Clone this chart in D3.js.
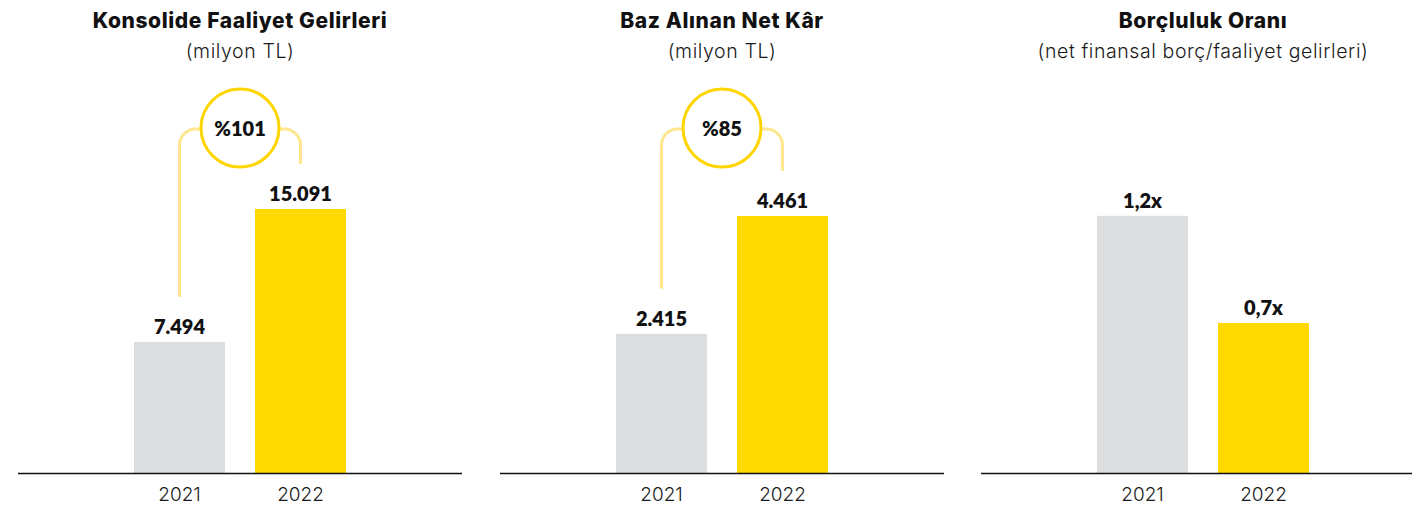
<!DOCTYPE html>
<html>
<head>
<meta charset="utf-8">
<script src="https://cdn.jsdelivr.net/npm/d3@7"></script>
<style>
  html, body { margin: 0; padding: 0; background: #fff; }
  svg { display: block; font-family: Lato, "Noto Sans", sans-serif; }
</style>
</head>
<body>
<svg id="chart" width="1412" height="505"></svg>
<script>
// ---- data ----
const years = ["2021", "2022"];
const titles = ["Konsolide Faaliyet Gelirleri", "Baz Alınan Net Kâr", "Borçluluk Oranı"];
const subtitles = ["(milyon TL)", "(milyon TL)", "(net finansal borç/faaliyet gelirleri)"];
const revenueValues = [7494, 15091];
const netProfitValues = [2415, 4461];
const leverageValues = [1.2, 0.7];
const revenueLabels = ["7.494", "15.091"];
const netProfitLabels = ["2.415", "4.461"];
const leverageLabels = ["1,2x", "0,7x"];
const growthLabels = ["%101", "%85", null];
const domainMax = [17149, 5207, 1.40];

const seriesValues = [revenueValues, netProfitValues, leverageValues];
const seriesLabels = [revenueLabels, netProfitLabels, leverageLabels];

// ---- style ----
const barColors = ["#DCDDDF", "#FFD900"];
const ringColor = "#FFD500";
const bracketColor = "#FFE68F";
const textColor = "#111111";
const titleFont = "Inter, 'Open Sans', sans-serif";

const svg = d3.select("#chart");
const baseY = 473;
const topY = 173;
const panelCenters = [240, 722, 1203];

titles.forEach((title, i) => {
  const cx = panelCenters[i];
  const g = svg.append("g");
  const vals = seriesValues[i];
  const labs = seriesLabels[i];

  const x = d3.scaleBand().domain(years)
    .range([cx - 106, cx + 106]).paddingInner(0.248).paddingOuter(0);
  const y = d3.scaleLinear().domain([0, domainMax[i]]).range([baseY, topY]);

  // titles
  g.append("text").attr("x", cx).attr("y", 28).attr("text-anchor", "middle")
    .attr("font-family", titleFont)
    .attr("font-size", 21).attr("font-weight", 800).attr("fill", textColor)
    .attr("letter-spacing", 0.6).text(title);
  g.append("text").attr("x", cx).attr("y", 58).attr("text-anchor", "middle")
    .attr("font-family", titleFont)
    .attr("font-size", 19.5).attr("font-weight", 300).attr("fill", "#1a1a1a")
    .attr("letter-spacing", 0.6).text(subtitles[i]);

  // bars
  g.selectAll("rect.bar").data(years).join("rect")
    .attr("class", "bar")
    .attr("x", d => x(d))
    .attr("width", x.bandwidth())
    .attr("y", (d, j) => y(vals[j]))
    .attr("height", (d, j) => baseY - y(vals[j]))
    .attr("fill", (d, j) => barColors[j]);

  // value labels
  g.selectAll("text.val").data(years).join("text")
    .attr("class", "val")
    .attr("x", d => x(d) + x.bandwidth() / 2)
    .attr("y", (d, j) => y(vals[j]) - 8)
    .attr("text-anchor", "middle")
    .attr("font-size", 20).attr("font-weight", 800).attr("fill", textColor)
    .text((d, j) => labs[j]);

  // axis
  const axis = d3.axisBottom(x).tickSize(0).tickPadding(10);
  const ag = g.append("g").attr("transform", `translate(0,${baseY})`).call(axis);
  ag.select(".domain").remove();
  ag.selectAll("text").attr("font-size", 19).attr("fill", "#1a1a1a")
    .attr("font-family", titleFont).attr("font-weight", 300)
    .attr("dy", "0.95em");
  g.append("line").attr("x1", cx - 222).attr("x2", cx + 222)
    .attr("y1", baseY + 0.5).attr("y2", baseY + 0.5)
    .attr("stroke", "#111").attr("stroke-width", 1.3);

  // growth annotation
  if (growthLabels[i]) {
    const cy = 128, r = 39, cr = 16, hy = 129;
    const x1 = x(years[0]) + x.bandwidth() / 2;
    const x2 = x(years[1]) + x.bandwidth() / 2;
    const e1 = y(vals[0]) - 45;
    const e2 = y(vals[1]) - 45;
    const p1 = d3.path();
    p1.moveTo(cx - r, hy); p1.lineTo(x1 + cr, hy);
    p1.arcTo(x1, hy, x1, hy + cr, cr); p1.lineTo(x1, e1);
    const p2 = d3.path();
    p2.moveTo(cx + r, hy); p2.lineTo(x2 - cr, hy);
    p2.arcTo(x2, hy, x2, hy + cr, cr); p2.lineTo(x2, e2);
    [p1, p2].forEach(p => g.append("path").attr("d", p.toString())
      .attr("fill", "none").attr("stroke", bracketColor).attr("stroke-width", 3));
    g.append("circle").attr("cx", cx).attr("cy", cy).attr("r", r)
      .attr("fill", "#fff").attr("stroke", ringColor).attr("stroke-width", 3);
    g.append("text").attr("x", cx).attr("y", 136).attr("text-anchor", "middle")
      .attr("font-size", 20).attr("font-weight", 800).attr("fill", textColor)
      .text(growthLabels[i]);
  }
});
</script>
</body>
</html>
